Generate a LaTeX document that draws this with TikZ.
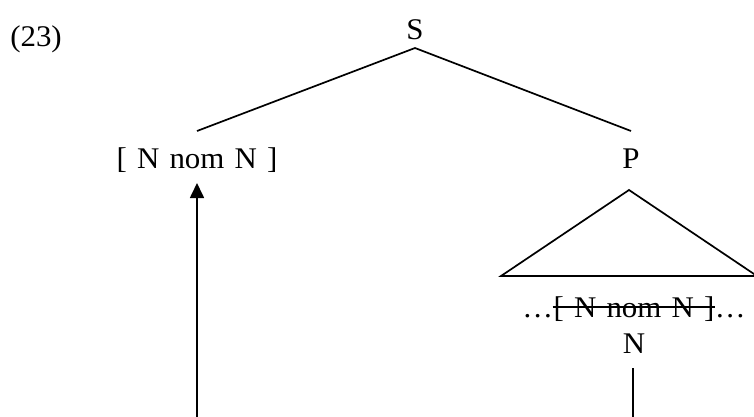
\documentclass[tikz,border=0pt]{standalone}
\usepackage{fontspec}
\setmainfont{Liberation Serif}[FakeStretch=1.03]
\usetikzlibrary{arrows.meta}
\newcommand{\gap}{\hspace{0.34em}}
\newcommand{\dotsx}{.\kern2.5pt.\kern2.5pt.}
\begin{document}
\begin{tikzpicture}[x=1pt,y=-1pt,line width=1.7pt,
  lbl/.style={font=\fontsize{30}{36}\selectfont,inner sep=0pt,anchor=base}]
\useasboundingbox (0,0) rectangle (754,416);
\clip (0,0) rectangle (754,416);
% labels
\node[lbl] (ex) at (36,46) {(23)};
\node[lbl] (S) at (415,39) {S};
\node[lbl] (NP) at (197,168) {[\gap N\gap nom\gap N\gap]};
\node[lbl] (P) at (631,168) {P};
% branches
\coordinate (Sb) at (415,48);
\coordinate (NPt) at (197,131);
\coordinate (Pt) at (631,131);
\draw (NPt) -- (Sb) -- (Pt);
% triangle
\coordinate (Ta) at (629,190);
\coordinate (Tl) at (501,276);
\coordinate (Tr) at (757,276);
\draw[line join=miter] (Tl) -- (Ta) -- (Tr) -- cycle;
% struck-out copy
\node[lbl] (mid) at (634,317) {[\gap N\gap nom\gap N\gap]};
\node[lbl,anchor=base east] (dl) at (mid.base west) {\dotsx};
\node[lbl,anchor=base west] (dr) at (mid.base east) {\dotsx};
\draw[line width=1.2pt] ([yshift=10pt]mid.base west) -- ([yshift=10pt]mid.base east);
\node[lbl] (N) at (634,353) {N};
% trace line
\coordinate (Nl) at (633,368);
\coordinate (Nb) at (633,420);
\draw (Nl) -- (Nb);
% movement arrow
\coordinate (Ab) at (197,420);
\coordinate (At) at (197,183);
\draw[-{Triangle[length=15pt,width=14pt]}] (Ab) -- (At);
\end{tikzpicture}
\end{document}
